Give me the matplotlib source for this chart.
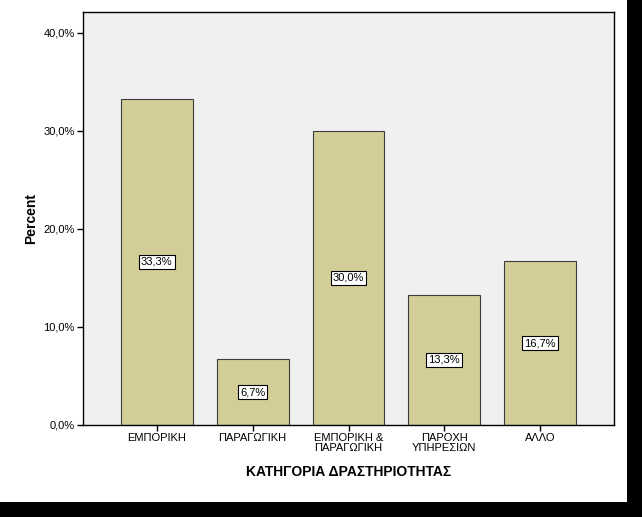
import matplotlib
matplotlib.use('Agg')
import matplotlib.pyplot as plt
from matplotlib.patches import Rectangle

plt.rcParams['font.family'] = ['Liberation Sans', 'DejaVu Sans']

categories = ['ΕΜΠΟΡΙΚΗ', 'ΠΑΡΑΓΩΓΙΚΗ', 'ΕΜΠΟΡΙΚΗ &\nΠΑΡΑΓΩΓΙΚΗ',
              'ΠΑΡΟΧΗ\nΥΠΗΡΕΣΙΩΝ', 'ΑΛΛΟ']
percents = [33.3, 6.7, 30.0, 13.3, 16.7]
yticks = [0, 10, 20, 30, 40]

fig = plt.figure(figsize=(6.42, 5.17), dpi=100)
fig.patch.set_facecolor('white')

# black shadow strips on right and bottom
fig.add_artist(Rectangle((627 / 642, 0), 15 / 642, 1, transform=fig.transFigure,
                         facecolor='black', edgecolor='none'))
fig.add_artist(Rectangle((0, 0), 1, 15 / 517, transform=fig.transFigure,
                         facecolor='black', edgecolor='none'))

ax = fig.add_axes([83 / 642, (517 - 425) / 517, 531 / 642, 413 / 517])
ax.set_facecolor('#f0f0f0')

x = range(len(categories))
ax.bar(x, percents, width=0.75, color='#d3ce97', edgecolor='#3c3c3c', linewidth=0.8, zorder=2)

for i, v in enumerate(percents):
    ax.text(i, v / 2, ('%.1f%%' % v).replace('.', ','), ha='center', va='center',
            fontsize=8, zorder=3,
            bbox=dict(boxstyle='square,pad=0.2', facecolor='white', edgecolor='black', linewidth=0.8))

ax.set_xlim(-0.77, 4.77)
ax.set_ylim(0, 42.14)
ax.set_yticks(yticks)
ax.set_yticklabels([('%.1f%%' % t).replace('.', ',') for t in yticks], fontsize=8)
ax.set_xticks(list(x))
ax.set_xticklabels(categories, fontsize=8, linespacing=0.95)
ax.tick_params(direction='out', length=4, width=1, color='black', pad=2)

for s in ax.spines.values():
    s.set_linewidth(1)
    s.set_color('black')

ax.set_xlabel('ΚΑΤΗΓΟΡΙΑ ΔΡΑΣΤΗΡΙΟΤΗΤΑΣ', fontsize=10, fontweight='bold', labelpad=9)
ax.set_ylabel('Percent', fontsize=10, fontweight='bold', labelpad=4)

fig.savefig('out.png', dpi=100)
